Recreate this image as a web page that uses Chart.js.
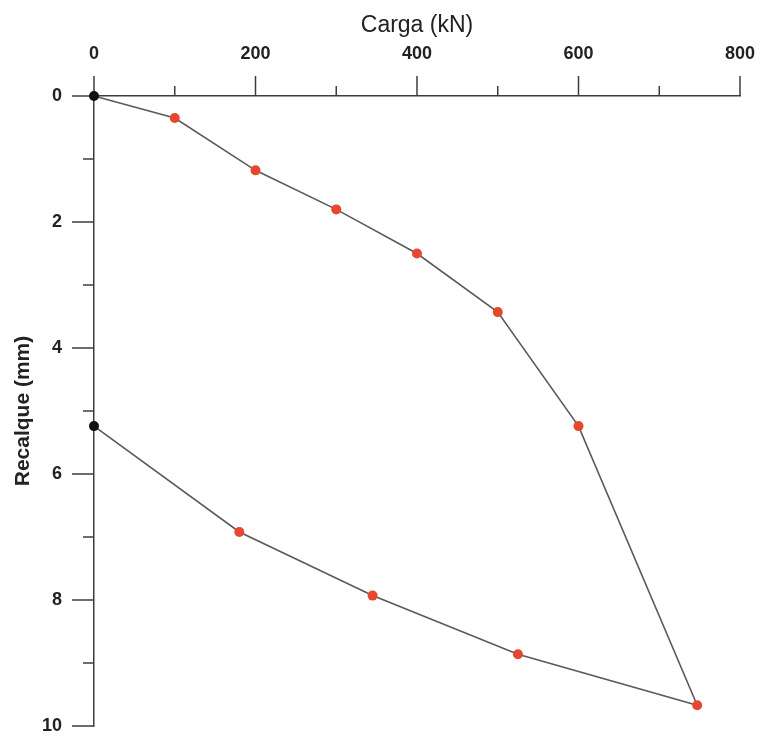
<!DOCTYPE html>
<html>
<head>
<meta charset="utf-8">
<script src="https://cdn.jsdelivr.net/npm/chart.js@4/dist/chart.umd.min.js"></script>
<style>
  body { margin: 0; background: #fff; }
</style>
</head>
<body>
<canvas id="provaCanvas" width="762" height="738"></canvas>
<script>
// Carga (kN) x Recalque (mm) - carregamento e descarregamento
const carga = [0, 100, 200, 300, 400, 500, 600, 747, 525, 345, 180, 0];
const recalque = [0, 0.35, 1.18, 1.8, 2.5, 3.43, 5.24, 9.67, 8.86, 7.93, 6.92, 5.24];
const xLabelsShown = [0, 200, 400, 600, 800];
const yLabelsShown = [0, 2, 4, 6, 8, 10];

const fontFam = '"Liberation Sans", Arial, Helvetica, sans-serif';
const axisColor = '#3c3c3c';

const pontos = carga.map((c, i) => ({ x: c, y: recalque[i] }));
const corPontos = pontos.map((p, i) => (i === 0 || i === pontos.length - 1) ? '#111111' : '#e5482e');

// sem folga extra para os rotulos das pontas
function semFolga(scale) {
    scale.paddingLeft = 0;
    scale.paddingRight = 0;
    scale.paddingTop = 0;
    scale.paddingBottom = 0;
}

// marcas de divisao: maiores nos valores com rotulo, menores entre eles
const tickMarks = {
    id: 'tickMarks',
    beforeDatasetsDraw(chart) {
        const ctx = chart.ctx;
        const sx = chart.scales.x;
        const sy = chart.scales.y;
        ctx.save();
        ctx.strokeStyle = axisColor;
        ctx.lineWidth = 1.5;
        sx.ticks.forEach(t => {
            const px = sx.getPixelForValue(t.value);
            const len = xLabelsShown.includes(t.value) ? 20 : 10;
            ctx.beginPath();
            ctx.moveTo(px, sx.bottom);
            ctx.lineTo(px, sx.bottom - len);
            ctx.stroke();
        });
        sy.ticks.forEach(t => {
            const py = sy.getPixelForValue(t.value);
            const len = yLabelsShown.includes(t.value) ? 22 : 11;
            ctx.beginPath();
            ctx.moveTo(sy.right, py);
            ctx.lineTo(sy.right - len, py);
            ctx.stroke();
        });
        ctx.restore();
    }
};

const prova = document.getElementById('provaCanvas');
const graph = new Chart(prova, {
    type: 'scatter',
    data: {
        datasets: [{
            label: 'Recalque',
            data: pontos,
            showLine: true,
            borderColor: '#5a5a5a',
            borderWidth: 1.6,
            tension: 0,
            pointRadius: 5,
            pointBorderWidth: 0,
            pointBackgroundColor: corPontos,
            pointBorderColor: corPontos,
            clip: false
        }]
    },
    options: {
        responsive: false,
        animation: false,
        layout: {
            padding: { left: 0, top: 0, right: 22, bottom: 12 }
        },
        plugins: {
            legend: { display: false },
            tooltip: { enabled: false }
        },
        scales: {
            x: {
                type: 'linear',
                position: 'top',
                min: 0,
                max: 800,
                afterFit(scale) { scale.height = 96; semFolga(scale); },
                grid: { display: true, drawOnChartArea: false, drawTicks: false },
                border: { display: true, color: axisColor, width: 1.5 },
                ticks: {
                    stepSize: 100,
                    autoSkip: false,
                    maxRotation: 0,
                    padding: 31,
                    color: '#222',
                    font: { family: fontFam, size: 18, weight: 'bold' },
                    callback: v => xLabelsShown.includes(v) ? v : ''
                },
                title: {
                    display: true,
                    text: 'Carga (kN)',
                    color: '#222',
                    padding: { top: 12, bottom: 0 },
                    font: { family: fontFam, size: 23 }
                }
            },
            y: {
                type: 'linear',
                reverse: true,
                min: 0,
                max: 10,
                afterFit(scale) { scale.width = 94; semFolga(scale); },
                grid: { display: true, drawOnChartArea: false, drawTicks: false },
                border: { display: true, color: axisColor, width: 1.5 },
                ticks: {
                    stepSize: 1,
                    autoSkip: false,
                    padding: 32,
                    color: '#222',
                    font: { family: fontFam, size: 18, weight: 'bold' },
                    callback: v => yLabelsShown.includes(v) ? v : ''
                },
                title: {
                    display: true,
                    text: 'Recalque (mm)',
                    color: '#222',
                    padding: { top: 11, bottom: 0 },
                    font: { family: fontFam, size: 21, weight: 'bold' }
                }
            }
        }
    },
    plugins: [tickMarks]
});
</script>
</body>
</html>
